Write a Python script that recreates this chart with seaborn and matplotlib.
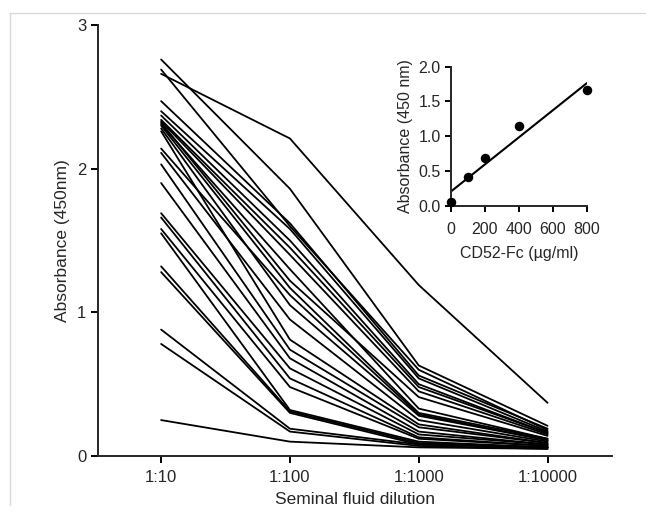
import numpy as np
import pandas as pd
import seaborn as sns
import matplotlib.pyplot as plt
from matplotlib.lines import Line2D

# Dilution categories on the x axis
dilutions = ['1:10', '1:100', '1:1000', '1:10000']

# Absorbance (450nm) per sample, one list per dilution step
abs_1_10 = [2.76, 2.69, 2.66, 2.47, 2.40, 2.37, 2.34, 2.33, 2.32, 2.31, 2.30, 2.28,
            2.26, 2.14, 2.11, 2.03, 1.90, 1.69, 1.66, 1.58, 1.55, 1.32, 1.28, 0.88,
            0.78, 0.25]
abs_1_100 = [1.86, 1.60, 2.21, 1.62, 1.58, 1.50, 1.45, 1.40, 1.22, 1.30, 1.17, 1.05,
             0.81, 1.12, 0.95, 0.74, 0.68, 0.61, 0.54, 0.48, 0.32, 0.31, 0.30, 0.19,
             0.17, 0.10]
abs_1_1000 = [0.63, 0.60, 1.19, 0.56, 0.54, 0.50, 0.48, 0.45, 0.41, 0.33, 0.30, 0.28,
              0.22, 0.29, 0.25, 0.20, 0.17, 0.15, 0.13, 0.12, 0.10, 0.09, 0.08, 0.08,
              0.07, 0.06]
abs_1_10000 = [0.21, 0.18, 0.37, 0.19, 0.17, 0.16, 0.16, 0.15, 0.14, 0.12, 0.12, 0.11,
               0.09, 0.11, 0.10, 0.09, 0.08, 0.08, 0.07, 0.07, 0.06, 0.06, 0.06, 0.06,
               0.05, 0.05]

# Standard curve for the inset
cd52_conc = [0, 100, 200, 400, 800]
cd52_abs = [0.05, 0.41, 0.68, 1.15, 1.66]

rows = []
for i, vals in enumerate(zip(abs_1_10, abs_1_100, abs_1_1000, abs_1_10000)):
    for pos, v in enumerate(vals):
        rows.append({'sample': i, 'pos': pos, 'absorbance': v})
df = pd.DataFrame(rows)
std = pd.DataFrame({'conc': cd52_conc, 'abs': cd52_abs})

sns.set_style('ticks')
plt.rcParams['font.family'] = ['Liberation Sans', 'DejaVu Sans']
plt.rcParams['axes.linewidth'] = 1.4

fig = plt.figure(figsize=(6.46, 5.14), dpi=100)

# light frame around the figure panel
fig.add_artist(Line2D([10 / 646, 10 / 646], [1 - 13 / 514, 1 - 505 / 514],
                      color='#d9d9d9', lw=1, transform=fig.transFigure))
fig.add_artist(Line2D([10 / 646, 1.0], [1 - 13 / 514, 1 - 13 / 514],
                      color='#d9d9d9', lw=1, transform=fig.transFigure))

ax = fig.add_axes([98 / 646, 1 - 456 / 514, (612 - 98) / 646, (456 - 25) / 514])
sns.lineplot(data=df, x='pos', y='absorbance', units='sample', estimator=None,
             color='black', lw=1.3, ax=ax)
ax.set_xlim(-0.49, 3.5)
ax.set_ylim(0, 3)
ax.set_xticks(range(4))
ax.set_xticklabels(dilutions)
ax.set_yticks([0, 1, 2, 3])
ax.set_xlabel('Seminal fluid dilution', fontsize=12.5, labelpad=5)
ax.set_ylabel('Absorbance (450nm)', fontsize=12.5, labelpad=5)
ax.tick_params(labelsize=12, width=1.4, length=5, color='black')
ax.tick_params(axis='x', pad=5)
sns.despine(ax=ax)

# inset: standard curve
ins = fig.add_axes([451 / 646, 1 - 205.7 / 514, (587 - 451) / 646, (205.7 - 66.7) / 514])
sns.regplot(data=std, x='conc', y='abs', ci=None, color='black', ax=ins,
            scatter_kws={'s': 34, 'alpha': 1, 'clip_on': False, 'zorder': 5},
            line_kws={'lw': 1.5})
ins.set_xlim(0, 800)
ins.set_ylim(0, 2)
ins.set_xticks([0, 200, 400, 600, 800])
ins.set_yticks([0, 0.5, 1.0, 1.5, 2.0])
ins.set_yticklabels(['0.0', '0.5', '1.0', '1.5', '2.0'])
ins.set_xlabel('CD52-Fc (µg/ml)', fontsize=11.5, labelpad=6)
ins.set_ylabel('Absorbance (450 nm)', fontsize=11.5)
ins.tick_params(labelsize=11.5, width=1.4, length=4, color='black')
ins.tick_params(axis='x', pad=8)
ins.patch.set_alpha(0)
sns.despine(ax=ins)

fig.savefig('out.png', dpi=100)
